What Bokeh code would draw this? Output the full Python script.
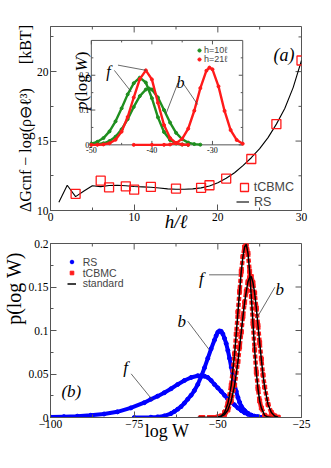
from math import pi
from bokeh.plotting import figure
from bokeh.layouts import column
from bokeh.models import (Range1d, LinearAxis, FixedTicker, CustomJSTickFormatter, Label,
                          Legend, LegendItem)
from bokeh.core.properties import value
from bokeh.embed import file_html
from bokeh.resources import INLINE

# ---------------- panel (a): free energy vs h ----------------
h_rs = list(range(1, 31))
dg_rs = [10.6, 11.82, 11.0, 11.4, 11.78, 11.72, 11.8, 11.82, 11.78, 11.73,
         11.7, 11.67, 11.62, 11.56, 11.53, 11.53, 11.56, 11.63, 11.76, 12.0,
         12.32, 12.72, 13.23, 13.8, 14.45, 15.25, 16.22, 17.35, 18.85, 20.8]
h_tcbmc = [3, 6, 7, 9, 10, 12, 15, 18, 19, 21, 24, 27, 30]
dg_tcbmc = [11.2, 12.15, 11.67, 11.74, 11.5, 11.7, 11.58, 11.63, 11.82, 12.3, 13.71, 16.22, 20.8]
a_xticks = [0, 10, 20, 30]
a_xminor = [5, 15, 25]
a_yticks = [10, 15, 20]
a_yminor = [12.5, 17.5, 22.5]

# ---------------- inset of (a): p(log W) for h=10 and h=21 ----------------
h10_f_x = [-50, -49, -48, -47, -46, -45, -44, -43, -42, -41, -40, -39, -38, -37, -36, -35, -34]
h10_f_y = [0.0035, 0.0088, 0.0195, 0.0386, 0.0675, 0.105, 0.145, 0.177, 0.193, 0.179, 0.134,
           0.079, 0.037, 0.014, 0.004, 0.001, 0.0]
h10_b_x = [-50, -49, -48, -47, -46, -45, -44, -43, -42, -41, -40.5, -40, -39, -38, -37, -36,
           -35, -34, -33, -32]
h10_b_y = [0.0005, 0.0016, 0.0045, 0.011, 0.0235, 0.0446, 0.074, 0.109, 0.140, 0.159, 0.162,
           0.159, 0.136, 0.100, 0.064, 0.0345, 0.016, 0.0064, 0.0022, 0.0006]
h21_f_x = [-50, -49, -48, -47, -46, -45, -44, -43, -42, -41, -40, -39, -38, -37, -36, -35, -34]
h21_f_y = [0.0, 0.0003, 0.0012, 0.0047, 0.0148, 0.038, 0.080, 0.136, 0.189, 0.214, 0.188,
           0.121, 0.057, 0.0196, 0.0049, 0.0009, 0.0]
h21_b_x = [-43, -40, -38, -37, -36, -35, -34, -33, -32, -31, -30.5, -30, -29, -28, -27, -26, -25]
h21_b_y = [0.0, 0.0, 0.0002, 0.0012, 0.005, 0.0173, 0.0466, 0.098, 0.163, 0.213, 0.222, 0.217,
           0.168, 0.0975, 0.0426, 0.014, 0.0034]
in_xticks = [-50, -40, -30]
in_xminor = [-45, -35]
in_yticks = [0, 0.1, 0.2]
in_yminor = [0.05, 0.15, 0.25]
in_xlabels = ["-50", "-40", "-30"]
in_ylabels = ["0", "0.1", "0.2"]

# ---------------- panel (b): p(log W) ----------------
rs_f_x = [-100, -96, -92, -88, -84, -80, -76, -72, -70, -68, -66, -64, -62, -60, -58, -56, -55,
          -54, -53, -52, -51, -50, -49, -48, -47, -46, -45, -44, -43, -42, -41, -40, -39, -38,
          -36, -34]
rs_f_y = [0.0005, 0.001, 0.0015, 0.0025, 0.004, 0.0065, 0.011, 0.017, 0.021, 0.0245, 0.0285,
          0.033, 0.038, 0.0425, 0.046, 0.048, 0.048, 0.0475, 0.046, 0.0425, 0.038, 0.034, 0.030,
          0.0255, 0.021, 0.0175, 0.0145, 0.011, 0.008, 0.0055, 0.0037, 0.0024, 0.0014, 0.0008,
          0.0002, 0.0]
rs_b_x = [-75, -70, -68, -66, -64, -63, -62, -61, -60, -59, -58, -57, -56, -55, -54, -53, -52,
          -51, -50.5, -50, -49.5, -49, -48.5, -48, -47.5, -47, -46.5, -46, -45.5, -45, -44.5,
          -44, -43.5, -43, -42, -41, -40, -39, -38, -36, -34]
rs_b_y = [0.0, 0.0003, 0.0007, 0.0018, 0.0045, 0.0068, 0.0095, 0.0125, 0.0165, 0.021, 0.0255,
          0.031, 0.038, 0.047, 0.057, 0.068, 0.079, 0.089, 0.094, 0.098, 0.0995, 0.099, 0.096,
          0.091, 0.085, 0.077, 0.068, 0.058, 0.048, 0.038, 0.030, 0.023, 0.0175, 0.013, 0.008,
          0.0048, 0.0027, 0.0014, 0.0007, 0.0002, 0.0]
tc_f_x = [-55, -52, -50, -49, -48, -47, -46, -45, -44.5, -44, -43.5, -43, -42.5, -42, -41.5,
          -41, -40.5, -40, -39.5, -39, -38.5, -38, -37.5, -37, -36, -35, -34, -32]
tc_f_y = [0.0, 0.0, 0.0004, 0.0017, 0.0057, 0.016, 0.037, 0.073, 0.096, 0.121, 0.145, 0.168,
          0.185, 0.196, 0.199, 0.189, 0.168, 0.139, 0.108, 0.078, 0.052, 0.033, 0.019, 0.011,
          0.0025, 0.0005, 0.0, 0.0]
tc_b_x = [-55, -52, -50, -49, -48, -47, -46, -45, -44, -43.5, -43, -42.5, -42, -41.5, -41,
          -40.5, -40, -39.5, -39, -38.5, -38, -37.5, -37, -36.5, -36, -35, -34, -33, -32]
tc_b_y = [0.0, 0.0, 0.0004, 0.0012, 0.0034, 0.0086, 0.019, 0.037, 0.064, 0.081, 0.098, 0.116,
          0.132, 0.145, 0.156, 0.161, 0.162, 0.155, 0.143, 0.126, 0.106, 0.086, 0.067, 0.049,
          0.035, 0.015, 0.0057, 0.0018, 0.0004]
std_f_x = [-56, -52, -50, -49, -48, -47, -46, -45, -44.5, -44, -43.5, -43, -42.5, -42, -41.5,
           -41, -40.5, -40, -39.5, -39, -38.5, -38, -37.5, -37, -36, -35, -34, -32]
std_f_y = [0.0, 0.0, 0.0004, 0.0017, 0.0057, 0.016, 0.037, 0.073, 0.096, 0.121, 0.145, 0.168,
           0.185, 0.196, 0.199, 0.189, 0.168, 0.139, 0.108, 0.078, 0.052, 0.033, 0.019, 0.011,
           0.0025, 0.0005, 0.0, 0.0]
std_b_x = [-56, -52, -50, -49, -48, -47, -46, -45, -44, -43.5, -43, -42.5, -42, -41.5, -41,
           -40.5, -40, -39.5, -39, -38.5, -38, -37.5, -37, -36.5, -36, -35, -34, -33, -32]
std_b_y = [0.0, 0.0, 0.0004, 0.0012, 0.0034, 0.0086, 0.019, 0.037, 0.064, 0.081, 0.098, 0.116,
           0.132, 0.145, 0.156, 0.161, 0.162, 0.155, 0.143, 0.126, 0.106, 0.086, 0.067, 0.049,
           0.035, 0.015, 0.0057, 0.0018, 0.0004]
b_xticks = [-100, -75, -50, -25]
b_xminor = [-87.5, -62.5, -37.5]
b_yticks = [0, 0.05, 0.1, 0.15, 0.2]
b_yminor = [0.025, 0.075, 0.125, 0.175]

# leader lines (data coordinates: label end -> point on curve)
in_lead_x0 = [-45.6, -46.2, -35.7, -34.9]
in_lead_y0 = [0.229, 0.214, 0.178, 0.178]
in_lead_x1 = [-40.95, -43.4, -37.7, -32.45]
in_lead_y1 = [0.214, 0.152, 0.088, 0.116]
b_lead_x0 = [-75.9, -59.0, -52.6, -32.95]
b_lead_y0 = [0.0502, 0.1107, 0.164, 0.1498]
b_lead_x1 = [-69.4, -52.6, -43.66, -38.2]
b_lead_y1 = [0.0195, 0.078, 0.164, 0.1153]

# ---------------- layout constants (page pixels) ----------------
W, HA, HB = 323, 234, 226
A_L, A_R, A_T, A_B = 49, 301, 26, 211
B_L, B_R, B_T, B_B = 49, 301, 243, 417
IN_L, IN_R, IN_T, IN_B = 90, 242, 40, 145
A_X, A_Y = (0, 30), (10, 23.25)
B_X, B_Y = (-100, -25), (0, 0.2)
IN_X, IN_Y = (-50, -25), (0, 0.3)

SERIF = "Liberation Serif"
SANS = "Liberation Sans"
FRAME = "#555555"
RED = "#ff1a1a"
GREEN = "#1f8f1f"
BLUE = "#0000ff"
EM = "\u2003"


def lin(v, p0, p1, d0, d1):
    return d0 + (v - p0) * (d1 - d0) / (p1 - p0)


def ax_(sx): return lin(sx, A_L, A_R, *A_X)
def ay_(sy): return lin(sy, A_B, A_T, *A_Y)
def bx_(sx): return lin(sx, B_L, B_R, *B_X)
def by_(sy): return lin(sy, B_B, B_T, *B_Y)


def style(ax):
    ax.major_tick_in = 6
    ax.major_tick_out = 0
    ax.minor_tick_in = 3
    ax.minor_tick_out = 0
    ax.axis_line_color = FRAME
    ax.major_tick_line_color = FRAME
    ax.minor_tick_line_color = FRAME
    ax.major_label_text_font = SERIF
    ax.major_label_text_color = "black"
    ax.major_label_text_font_size = "11.5px"
    ax.major_label_standoff = 2
    ax.axis_label_text_font = SERIF
    ax.axis_label_text_color = "black"


def add_axes(p, xr, yr, fr, xt, xm, yt, ym, yfmt=None):
    bx = LinearAxis(ticker=FixedTicker(ticks=xt, minor_ticks=xm))
    style(bx)
    p.add_layout(bx, "below")
    ly = LinearAxis(ticker=FixedTicker(ticks=yt, minor_ticks=ym))
    style(ly)
    if yfmt is not None:
        ly.formatter = yfmt
    p.add_layout(ly, "left")
    # mirrored inward ticks on the top and right edges
    L, R, T, B = fr
    dy = (yr[1] - yr[0]) / (B - T)
    dx = (xr[1] - xr[0]) / (R - L)
    for ticks, ln in ((xt, 6), (xm, 3)):
        n = len(ticks)
        p.segment(x0=ticks, x1=ticks, y0=[yr[1]] * n, y1=[yr[1] - ln * dy] * n,
                  line_color=FRAME, line_width=1)
    for ticks, ln in ((yt, 6), (ym, 3)):
        n = len(ticks)
        p.segment(x0=[xr[1]] * n, x1=[xr[1] - ln * dx] * n, y0=ticks, y1=ticks,
                  line_color=FRAME, line_width=1)
    return bx, ly


def lab(p, x, y, text, size, st="normal", font=SERIF, angle=0.0, **kw):
    p.add_layout(Label(x=x, y=y, text=text, text_font=font, text_font_size=f"{size}px",
                       text_font_style=st, angle=angle, text_align="left",
                       text_baseline="alphabetic", text_color="black", **kw))


def one_legend(p, label, r, vx, vy, gw, gh, size, standoff):
    p.add_layout(Legend(items=[LegendItem(label=label, renderers=[r])], location=(vx, vy),
                        glyph_width=gw, glyph_height=gh, spacing=0, padding=0, margin=0,
                        label_standoff=standoff, label_height=1, label_width=1,
                        label_text_font=SANS, label_text_font_size=size,
                        border_line_color=None, background_fill_alpha=0))


# ================= figure (a) =================
pa = figure(width=W, height=HA, x_range=Range1d(*A_X), y_range=Range1d(*A_Y),
            x_axis_type=None, y_axis_type=None, output_backend="svg", toolbar_location=None,
            min_border_left=A_L, min_border_right=W - A_R,
            min_border_top=A_T, min_border_bottom=HA - A_B)
pa.xgrid.visible = False
pa.ygrid.visible = False
pa.outline_line_color = FRAME
pa.background_fill_color = "white"
pa.border_fill_color = "white"
xa, ya = add_axes(pa, A_X, A_Y, (A_L, A_R, A_T, A_B), a_xticks, a_xminor, a_yticks, a_yminor)
ya.axis_label = "ΔGcnf − log(ρ⊖ℓ³)" + EM + "\u2002[kBT]"
ya.axis_label_text_font_size = "16px"
ya.axis_label_text_font_style = "normal"
ya.axis_label_standoff = 0
xa.axis_label = "h/ℓ"
xa.axis_label_text_font_size = "19px"
xa.axis_label_text_font_style = "italic"
xa.axis_label_standoff = -13

rs_line = pa.line(h_rs, dg_rs, line_color="black", line_width=1.1)
tc_sq = pa.scatter(h_tcbmc, dg_tcbmc, marker="square", size=9, fill_color=None,
                   line_color=RED, line_width=1.3)

# inset with its own ranges mapped onto the inset box
pa.extra_x_ranges = {"ix": Range1d(lin(A_L, IN_L, IN_R, *IN_X), lin(A_R, IN_L, IN_R, *IN_X))}
pa.extra_y_ranges = {"iy": Range1d(lin(A_B, IN_B, IN_T, *IN_Y), lin(A_T, IN_B, IN_T, *IN_Y))}
IR = dict(x_range_name="ix", y_range_name="iy")
pa.quad(left=[IN_X[0]], right=[IN_X[1]], bottom=[IN_Y[0]], top=[IN_Y[1]],
        fill_color="white", line_color=FRAME, line_width=1, **IR)
tlx = 4 * (IN_X[1] - IN_X[0]) / (IN_R - IN_L)
tly = 4 * (IN_Y[1] - IN_Y[0]) / (IN_B - IN_T)
for ticks, f in ((in_xticks, 1.0), (in_xminor, 0.5)):
    n = len(ticks)
    pa.segment(x0=ticks, x1=ticks, y0=[IN_Y[0]] * n, y1=[IN_Y[0] + tly * f] * n,
               line_color=FRAME, line_width=1, **IR)
    pa.segment(x0=ticks, x1=ticks, y0=[IN_Y[1]] * n, y1=[IN_Y[1] - tly * f] * n,
               line_color=FRAME, line_width=1, **IR)
for ticks, f in ((in_yticks, 1.0), (in_yminor, 0.5)):
    n = len(ticks)
    pa.segment(x0=[IN_X[0]] * n, x1=[IN_X[0] + tlx * f] * n, y0=ticks, y1=ticks,
               line_color=FRAME, line_width=1, **IR)
    pa.segment(x0=[IN_X[1]] * n, x1=[IN_X[1] - tlx * f] * n, y0=ticks, y1=ticks,
               line_color=FRAME, line_width=1, **IR)
pa.text(x=in_xticks, y=[IN_Y[0]] * 3, text=in_xlabels, text_font=value(SERIF),
        text_font_size="8px", text_align="center", text_baseline="top", y_offset=2,
        text_color="black", **IR)
pa.text(x=[IN_X[0]] * 3, y=in_yticks, text=in_ylabels, text_font=value(SERIF),
        text_font_size="8px", text_align="right", text_baseline="middle", x_offset=-2,
        text_color="black", **IR)

for xs, ys in ((h10_f_x, h10_f_y), (h10_b_x, h10_b_y)):
    pa.line(xs, ys, line_color=GREEN, line_width=2.4, **IR)
g_sc = [pa.scatter(xs, ys, size=3, color=GREEN, **IR)
        for xs, ys in ((h10_f_x, h10_f_y), (h10_b_x, h10_b_y))]
for xs, ys in ((h21_f_x, h21_f_y), (h21_b_x, h21_b_y)):
    pa.line(xs, ys, line_color=RED, line_width=2.4, **IR)
r_sc = [pa.scatter(xs, ys, size=3, color=RED, **IR)
        for xs, ys in ((h21_f_x, h21_f_y), (h21_b_x, h21_b_y))]
pa.segment(x0=in_lead_x0, y0=in_lead_y0, x1=in_lead_x1, y1=in_lead_y1,
           line_color="#444444", line_width=0.8, **IR)

# legends (one per row, placed in frame pixels from bottom-left)
one_legend(pa, "h=10ℓ", g_sc[0], 194 - A_L, A_B - 56, 8, 8, "9px", 1)
one_legend(pa, "h=21ℓ", r_sc[0], 194 - A_L, A_B - 65, 8, 8, "9px", 1)
one_legend(pa, "tCBMC", tc_sq, 232.7 - A_L, A_B - 197.5, 20, 20, "12.5px", 0)
one_legend(pa, "RS", rs_line, 235 - A_L, A_B - 209.5, 13, 13, "12.5px", 5)

lab(pa, ax_(273), ay_(55), "(a)", 18, "italic")
IN_YLABEL = [("p", 110, 80, 17, "italic"), ("(log", 101.5, 80, 17, "normal"),
             ("W", 71.3, 80, 17, "italic"), (")", 57, 80, 17, "normal")]
for t, sy, sx, sz, st in IN_YLABEL:
    lab(pa, ax_(sx), ay_(sy), t, sz, st, angle=pi / 2)
lab(pa, ax_(105), ay_(71), "f", 16, "italic")
lab(pa, ax_(175.5), ay_(82.5), "b", 16, "italic")

# ================= figure (b) =================
pb = figure(width=W, height=HB, x_range=Range1d(*B_X), y_range=Range1d(*B_Y),
            x_axis_type=None, y_axis_type=None, output_backend="svg", toolbar_location=None,
            min_border_left=B_L, min_border_right=W - B_R,
            min_border_top=B_T - HA, min_border_bottom=HA + HB - B_B)
pb.xgrid.visible = False
pb.ygrid.visible = False
pb.outline_line_color = FRAME
pb.background_fill_color = "white"
pb.border_fill_color = "white"
xb, yb = add_axes(pb, B_X, B_Y, (B_L, B_R, B_T, B_B), b_xticks, b_xminor, b_yticks, b_yminor,
                  yfmt=CustomJSTickFormatter(code="return String(Math.round(tick*1000)/1000)"))
# leading spaces lift the centred label towards the top, as in the original
yb.axis_label = EM * 4 + "\u2009p(log W)"
yb.axis_label_text_font_size = "20px"
yb.axis_label_text_font_style = "normal"
yb.axis_label_standoff = 0
xb.axis_label = "log W" + EM
xb.axis_label_text_font_size = "18px"
xb.axis_label_text_font_style = "normal"
xb.axis_label_standoff = -10

for xs, ys in ((rs_f_x, rs_f_y), (rs_b_x, rs_b_y)):
    pb.line(xs, ys, line_color=BLUE, line_width=4)
b_sc = [pb.scatter(xs, ys, size=4, color=BLUE) for xs, ys in ((rs_f_x, rs_f_y), (rs_b_x, rs_b_y))]
for xs, ys in ((tc_f_x, tc_f_y), (tc_b_x, tc_b_y)):
    pb.line(xs, ys, line_color=RED, line_width=4.5, line_dash="4 2")
t_sc = [pb.scatter(xs, ys, size=4, marker="square", color=RED)
        for xs, ys in ((tc_f_x, tc_f_y), (tc_b_x, tc_b_y))]
std_l = [pb.line(xs, ys, line_color="black", line_width=1.5)
         for xs, ys in ((std_f_x, std_f_y), (std_b_x, std_b_y))]
pb.segment(x0=b_lead_x0, y0=b_lead_y0, x1=b_lead_x1, y1=b_lead_y1,
           line_color="#444444", line_width=0.8)

one_legend(pb, "RS", b_sc[0], 65.7 - B_L, B_B - 267.6, 9, 9, "10.5px", 7)
one_legend(pb, "tCBMC", t_sc[0], 65.7 - B_L, B_B - 278.6, 9, 9, "10.5px", 7)
one_legend(pb, "standard", std_l[0], 65.7 - B_L, B_B - 289.2, 9, 9, "10.5px", 7)

lab(pb, bx_(60), by_(391), "(b)", 17, "italic")
lab(pb, bx_(122), by_(367), "f", 17, "italic")
lab(pb, bx_(176.5), by_(321), "b", 17, "italic")
lab(pb, bx_(198), by_(277.5), "f", 17, "italic")
lab(pb, bx_(275), by_(288.5), "b", 17, "italic")

layout = column(pa, pb, spacing=0)
open("out.html", "w").write(file_html(layout, INLINE))
